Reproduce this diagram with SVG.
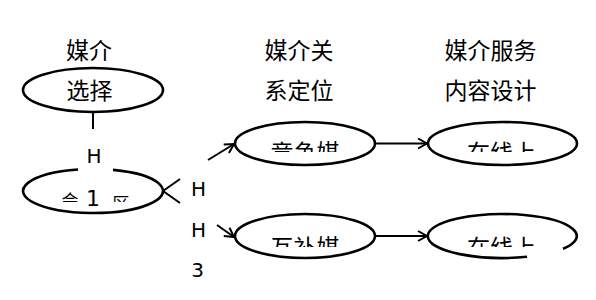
<svg xmlns="http://www.w3.org/2000/svg" width="596" height="300" viewBox="0 0 596 300">
<style>
.n{fill:none;stroke:#000;stroke-width:2.6}
.c{fill:none;stroke:#000;stroke-width:2}
.t{font-family:"Noto Sans CJK SC","Noto Sans CJK JP",sans-serif;font-size:23px;fill:#000;text-anchor:middle}
.h{font-family:"DejaVu Sans",sans-serif;font-size:20px;fill:#000;text-anchor:middle}
</style>
<defs>
<marker id="ar" markerWidth="12" markerHeight="12" refX="10" refY="6" orient="auto" markerUnits="userSpaceOnUse">
<path d="M1,1 L10,6 L1,11" fill="none" stroke="#000" stroke-width="2"/>
</marker>
<clipPath id="c1"><rect x="230" y="120" width="340" height="32"/></clipPath>
<clipPath id="c2"><rect x="230" y="215" width="340" height="32"/></clipPath>
<clipPath id="c3"><rect x="20" y="170" width="150" height="32"/></clipPath>
</defs>
<rect width="596" height="300" fill="#fff"/>
<g id="headers">
<text class="t" x="89" y="59">媒介</text>
<text class="t" x="299" y="59">媒介关</text>
<text class="t" x="299" y="99">系定位</text>
<text class="t" x="490.5" y="59">媒介服务</text>
<text class="t" x="490.5" y="99">内容设计</text>
</g>
<g id="node-select">
<ellipse class="n" cx="93" cy="90" rx="70" ry="22"/>
<text class="t" x="89.5" y="99">选择</text>
</g>
<g id="node-left">
<path class="n" d="M113,169.9 A70,22 0 1 1 78,169.5"/>
<text class="t" x="70" y="207" style="font-size:17px" clip-path="url(#c3)">会</text>
<text class="h" x="93" y="206" style="font-size:22px">1</text>
<text class="t" x="121" y="210" style="font-size:17px" clip-path="url(#c3)">区</text>
</g>
<g id="node-compete">
<ellipse class="n" cx="305" cy="143.5" rx="70" ry="21.5"/>
<text class="t" x="305" y="161" clip-path="url(#c1)">竞争媒</text>
</g>
<g id="node-online1">
<ellipse class="n" cx="502.5" cy="143.5" rx="74.5" ry="21.5"/>
<text class="t" x="501.5" y="161" clip-path="url(#c1)">在线上</text>
</g>
<g id="node-complement">
<ellipse class="n" cx="305" cy="236" rx="70" ry="22"/>
<text class="t" x="305" y="256" clip-path="url(#c2)">互补媒</text>
</g>
<g id="node-online2">
<path class="n" d="M563,248.8 A74.5,22 0 1 0 527,256.8"/>
<text class="t" x="501.5" y="256" clip-path="url(#c2)">在线上</text>
</g>
<g id="labels">
<text class="h" x="94" y="163">H</text>
<text class="h" x="198.5" y="196">H</text>
<text class="h" x="198.5" y="237">H</text>
<text class="h" x="197.5" y="277">3</text>
</g>
<g id="connectors">
<line class="c" x1="93" y1="112" x2="93" y2="129"/>
<line class="c" x1="163" y1="191" x2="180" y2="179"/>
<line class="c" x1="163" y1="191" x2="180" y2="203"/>
<line class="c" x1="208" y1="160" x2="234" y2="144" marker-end="url(#ar)"/>
<line class="c" x1="217" y1="225" x2="234" y2="237" marker-end="url(#ar)"/>
<line class="c" x1="375" y1="143.5" x2="427" y2="143.5" marker-end="url(#ar)"/>
<line class="c" x1="375" y1="236" x2="427" y2="236" marker-end="url(#ar)"/>
</g>
</svg>
